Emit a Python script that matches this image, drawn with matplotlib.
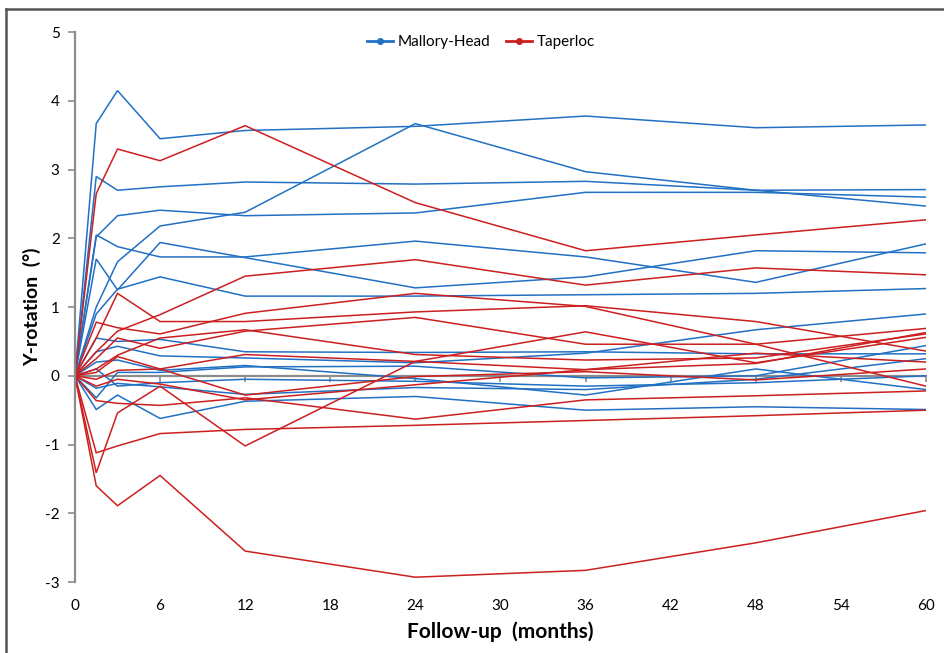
import matplotlib
matplotlib.use("Agg")
import matplotlib.pyplot as plt
from matplotlib.lines import Line2D

plt.rcParams['font.family'] = ['Lato', 'DejaVu Sans']
plt.rcParams['axes.unicode_minus'] = False

months = [0, 1.5, 3, 6, 12, 24, 36, 48, 60]
x_ticks = list(range(0, 61, 6))
y_ticks = list(range(-3, 6))

# Mallory-Head (blue) patients
mallory_head = [
    [0, 3.67, 4.15, 3.45, 3.57, 3.63, 3.78, 3.61, 3.65],
    [0, 1.00, 1.66, 2.18, 2.38, 3.67, 2.97, 2.70, 2.47],
    [0, 2.90, 2.70, 2.75, 2.82, 2.79, 2.83, 2.70, 2.71],
    [0, 2.02, 2.33, 2.41, 2.33, 2.37, 2.67, 2.67, 2.60],
    [0, 2.05, 1.88, 1.73, 1.73, 1.96, 1.73, 1.36, 1.92],
    [0, 1.70, 1.25, 1.94, 1.72, 1.28, 1.44, 1.82, 1.79],
    [0, 0.90, 1.26, 1.44, 1.16, 1.16, 1.18, 1.20, 1.27],
    [0, 0.55, 0.50, 0.53, 0.35, 0.34, 0.35, 0.32, 0.32],
    [0, 0.35, 0.43, 0.29, 0.26, 0.19, 0.33, 0.67, 0.90],
    [0, 0.20, 0.23, 0.08, 0.15, -0.04, -0.28, 0.10, -0.20],
    [0, -0.18, -0.11, -0.16, -0.27, -0.17, -0.20, -0.05, 0.25],
    [0, -0.49, -0.28, -0.62, -0.37, -0.30, -0.50, -0.45, -0.49],
    [0, -0.32, 0.05, 0.05, 0.13, 0.14, -0.03, 0.00, 0.44],
    [0, 0.10, -0.15, -0.10, -0.05, -0.08, -0.15, -0.10, 0.00],
]

# Taperloc (red) patients
taperloc = [
    [0, 2.65, 3.30, 3.13, 3.64, 2.52, 1.82, 2.05, 2.27],
    [0, 0.55, 1.20, 0.79, 0.79, 0.93, 1.02, 0.79, 0.36],
    [0, 0.35, 0.65, 0.89, 1.45, 1.69, 1.32, 1.57, 1.47],
    [0, 0.78, 0.70, 0.61, 0.91, 1.20, 1.01, 0.46, -0.15],
    [0, 0.25, 0.55, 0.40, 0.65, 0.85, 0.46, 0.46, 0.69],
    [0, 0.10, 0.30, 0.55, 0.67, 0.31, 0.23, 0.26, 0.61],
    [0, 0.05, 0.28, 0.10, 0.31, 0.21, 0.09, 0.18, 0.63],
    [0, -0.05, 0.08, 0.10, -0.28, -0.01, 0.06, -0.06, 0.10],
    [0, -1.41, -0.54, -0.15, -1.02, 0.21, 0.64, 0.19, 0.56],
    [0, -1.60, -1.89, -1.45, -2.55, -2.93, -2.83, -2.43, -1.96],
    [0, -1.12, -1.02, -0.84, -0.78, -0.72, -0.65, -0.58, -0.50],
    [0, -0.36, -0.40, -0.43, -0.32, -0.63, -0.35, -0.29, -0.22],
    [0, -0.15, -0.05, -0.12, -0.35, -0.13, 0.09, 0.33, 0.20],
]

blue = '#2170C4'
red = '#CC1F1F'
grey = '#8C8C8C'

fig = plt.figure(figsize=(9.44, 6.53), dpi=100)
ax = fig.add_axes([0.0794, 0.1087, 0.9015, 0.842])

for series in mallory_head:
    ax.plot(months, series, color=blue, lw=1.1, solid_joinstyle='miter')
for series in taperloc:
    ax.plot(months, series, color=red, lw=1.1, solid_joinstyle='miter')

ax.set_xlim(0, 60)
ax.set_ylim(-3, 5)
ax.set_yticks(y_ticks)
ax.set_xticks(x_ticks)

for s in ['top', 'right']:
    ax.spines[s].set_visible(False)
ax.spines['left'].set_color(grey)
ax.spines['left'].set_linewidth(1.6)
ax.spines['bottom'].set_position(('data', 0))
ax.spines['bottom'].set_color(grey)
ax.spines['bottom'].set_linewidth(1.6)
ax.spines['bottom'].set_zorder(0.5)
ax.tick_params(axis='x', direction='out', length=4, width=1.2, color=grey,
               labelbottom=False)
ax.tick_params(axis='y', direction='out', length=5, width=1.2, color=grey,
               labelsize=11, pad=6)

sec = ax.secondary_xaxis('bottom')
sec.set_xticks(x_ticks)
sec.spines['bottom'].set_visible(False)
sec.tick_params(length=0, labelsize=11, pad=12)
sec.set_xlabel('Follow-up  (months)', fontsize=15, fontweight='bold', labelpad=6)

ax.set_ylabel('Y-rotation  (°)', fontsize=14, fontweight='bold', labelpad=3)

handles = [Line2D([0], [0], color=blue, lw=2, marker='o', markersize=4),
           Line2D([0], [0], color=red, lw=2, marker='o', markersize=4)]
ax.legend(handles, ['Mallory-Head', 'Taperloc'], loc='upper center',
          bbox_to_anchor=(0.477, 1.02), ncol=2, frameon=False, fontsize=11,
          handlelength=1.7, handletextpad=0.3, columnspacing=1.0)

fig.add_artist(Line2D([0.006, 0.006], [0.0, 0.986], transform=fig.transFigure,
                      color='#555555', lw=1.8))
fig.add_artist(Line2D([0.006, 1.0], [0.986, 0.986], transform=fig.transFigure,
                      color='#555555', lw=1.8))

fig.savefig('out.png', dpi=100)
